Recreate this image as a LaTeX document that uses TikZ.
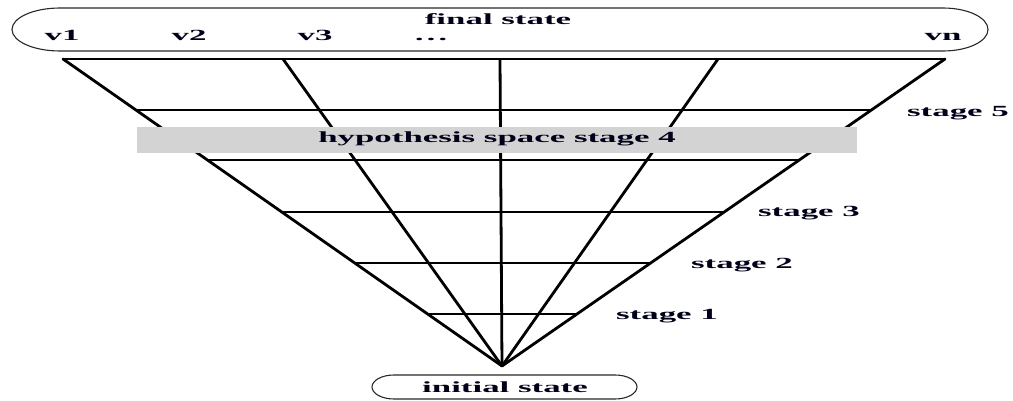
\documentclass[tikz,border=0pt]{standalone}
\usepackage{fontspec}
\usepackage{graphicx}
\setmainfont{Liberation Serif}
\usetikzlibrary{calc}
\newcommand{\wtxt}[1]{\scalebox{2.25}[1]{#1}}
\definecolor{bandgray}{RGB}{211,211,211}
\definecolor{boxline}{RGB}{40,40,40}
\tikzset{
  lbl/.style={anchor=base, inner sep=0pt, outer sep=0pt, font=\bfseries\fontsize{15.5}{18}\selectfont, text=black!90!blue},
  ray/.style={line width=2.8pt, black},
  rung/.style={line width=2pt, black},
  statebox/.style={line width=1.1pt, draw=boxline},
}
\begin{document}
\begin{tikzpicture}[x=1pt,y=-1pt]
\useasboundingbox (0,0) rectangle (1013,401);
% fan coordinates
\coordinate (apex) at (502,366);
\coordinate (t1) at (63,59);
\coordinate (t2) at (283,59);
\coordinate (t3) at (500,59);
\coordinate (t4) at (718,59);
\coordinate (t5) at (945,59);
% rays
\draw[ray, line cap=round] (t1) -- (apex);
\draw[ray] (t2) -- (apex);
\draw[ray] (t3) -- (apex);
\draw[ray] (t4) -- (apex);
\draw[ray, line cap=round] (t5) -- (apex);
\draw[ray] (t1) -- (t5);
% stage rungs
\foreach \f/\n in {0.166/s5, 0.329/s4, 0.498/s3, 0.6645/s2, 0.8306/s1}{
  \coordinate (\n l) at ($(t1)!\f!(apex)$);
  \coordinate (\n r) at ($(t5)!\f!(apex)$);
  \draw[rung] (\n l) -- (\n r);
}
% hypothesis band
\node[draw=none, fill=bandgray, minimum width=720pt, minimum height=26pt, inner sep=0pt, anchor=north west] (band) at (137,127) {};
\node[lbl] (hyp) at (497,143) {\wtxt{hypothesis space stage 4}};
% final state box
\draw[statebox] (60,8) -- (943,8) arc[start angle=-90, end angle=90, x radius=45, y radius=21.5] -- (60,51) arc[start angle=90, end angle=270, x radius=48, y radius=21.5] -- cycle;
\node[lbl] (final) at (498,25) {\wtxt{final state}};
\node[lbl] (v1) at (62,41) {\wtxt{v1}};
\node[lbl] (v2) at (189,41) {\wtxt{v2}};
\node[lbl] (v3) at (315,41) {\wtxt{v3}};
\node[lbl] (vdots) at (431,41) {\wtxt{…}};
\node[lbl] (vn) at (943,41) {\wtxt{vn}};
% initial state box
\draw[statebox] (394,375) -- (615,375) arc[start angle=-90, end angle=90, x radius=22, y radius=12] -- (394,399) arc[start angle=90, end angle=270, x radius=22, y radius=12] -- cycle;
\node[lbl] (init) at (505,392) {\wtxt{initial state}};
% stage labels
\node[lbl] (st5) at (958,117) {\wtxt{stage 5}};
\node[lbl] (st3) at (809,217) {\wtxt{stage 3}};
\node[lbl] (st2) at (742,268) {\wtxt{stage 2}};
\node[lbl] (st1) at (667,319) {\wtxt{stage 1}};
\end{tikzpicture}
\end{document}
